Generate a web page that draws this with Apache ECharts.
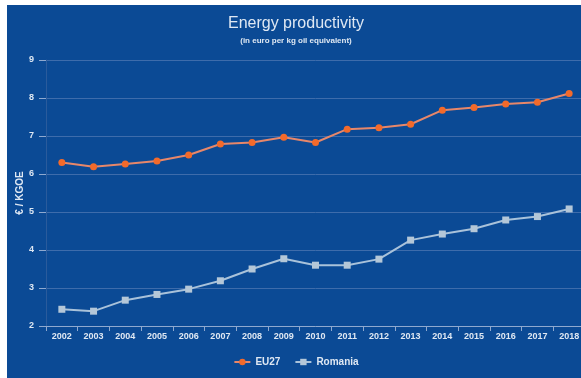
<!DOCTYPE html>
<html>
<head>
<meta charset="utf-8">
<script src="https://cdn.jsdelivr.net/npm/echarts@6/dist/echarts.min.js"></script>
<style>
  html, body { margin: 0; padding: 0; background: #fff; overflow: hidden; }
  #chart { position: absolute; left: 7px; top: 5px; width: 578px; height: 373px; background: #0b4a95; }
</style>
</head>
<body>
<div id="chart"></div>
<script>
// Data
const years = ['2002', '2003', '2004', '2005', '2006', '2007', '2008', '2009', '2010',
  '2011', '2012', '2013', '2014', '2015', '2016', '2017', '2018']
const eu27 = [6.30, 6.19, 6.26, 6.34, 6.50, 6.79, 6.83, 6.97, 6.83,
  7.18, 7.22, 7.31, 7.68, 7.75, 7.84, 7.89, 8.12]
const romania = [2.44, 2.39, 2.68, 2.83, 2.97, 3.19, 3.50, 3.77, 3.60,
  3.60, 3.76, 4.26, 4.42, 4.56, 4.79, 4.88, 5.08]

// Colors
const COLOR_TEXT = '#dfe8f3'
const COLOR_GRID = '#3e6cab'
const COLOR_EU = '#f26a2b'
const COLOR_EU_LINE = '#e7876a'
const COLOR_RO = '#b4c7d8'
const COLOR_RO_LINE = '#a9c2da'
const FONT = 'Liberation Sans, Arial, sans-serif'

const chart = echarts.init(document.getElementById('chart'))

chart.setOption({
  animation: false,
  textStyle: { fontFamily: FONT },
  title: {
    text: 'Energy productivity',
    subtext: '(in euro per kg oil equivalent)',
    left: 'center',
    top: 6,
    itemGap: 5,
    textStyle: { color: COLOR_TEXT, fontSize: 16, fontWeight: 'normal', fontFamily: FONT },
    subtextStyle: { color: COLOR_TEXT, fontSize: 8, fontWeight: 'bold', fontFamily: FONT },
  },
  legend: {
    bottom: 6,
    left: 'center',
    itemWidth: 16,
    itemHeight: 8,
    itemGap: 14,
    textStyle: { color: COLOR_TEXT, fontSize: 10, fontWeight: 'bold' },
    data: ['EU27', 'Romania'],
  },
  grid: { left: 39, right: 0, top: 55, bottom: 52, outerBoundsMode: 'none' },
  xAxis: {
    type: 'category',
    data: years,
    boundaryGap: true,
    axisLine: { lineStyle: { color: '#8fa9cf', width: 1 } },
    axisTick: { show: true, length: 5, lineStyle: { color: '#8fa9cf' } },
    axisLabel: { color: COLOR_TEXT, fontSize: 9, fontWeight: 'bold', margin: 6 },
  },
  yAxis: {
    type: 'value',
    min: 2,
    max: 9,
    interval: 1,
    name: '€ / KGOE',
    nameLocation: 'middle',
    nameGap: 21,
    nameRotate: 90,
    nameMoveOverlap: false,
    nameTextStyle: { color: COLOR_TEXT, fontSize: 10, fontWeight: 'bold' },
    axisLine: { show: true, lineStyle: { color: '#2a5b9c' } },
    axisTick: { show: true, length: 7, lineStyle: { color: '#8fa9cf' } },
    axisLabel: { color: COLOR_TEXT, fontSize: 9, fontWeight: 'bold', margin: 12 },
    splitLine: { lineStyle: { color: COLOR_GRID, width: 1 } },
  },
  series: [
    {
      name: 'EU27',
      type: 'line',
      data: eu27,
      symbol: 'circle',
      symbolSize: 7,
      itemStyle: { color: COLOR_EU },
      lineStyle: { color: COLOR_EU_LINE, width: 2 },
    },
    {
      name: 'Romania',
      type: 'line',
      data: romania,
      symbol: 'rect',
      symbolSize: 7,
      itemStyle: { color: COLOR_RO },
      lineStyle: { color: COLOR_RO_LINE, width: 2 },
    },
  ],
})
</script>
</body>
</html>
